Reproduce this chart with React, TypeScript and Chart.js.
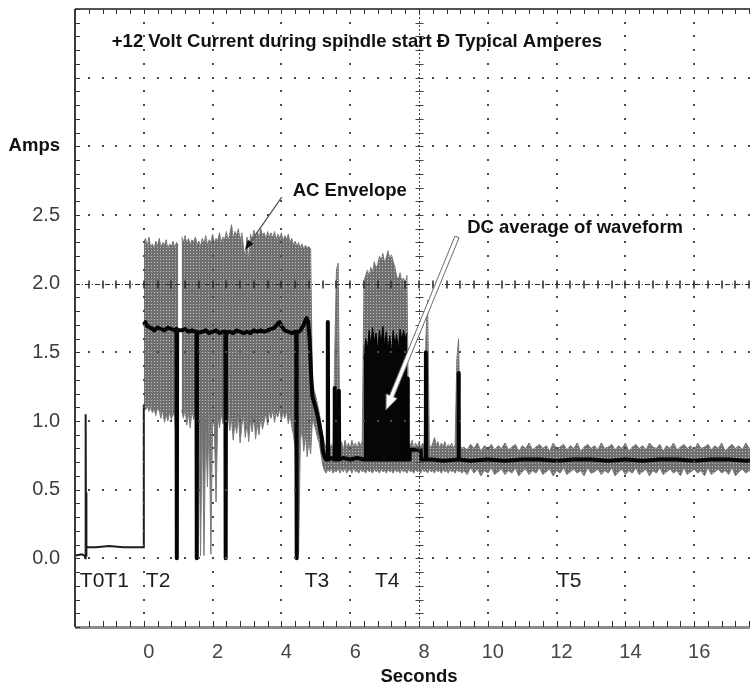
import React, { useEffect, useRef } from 'react';
import { Chart, registerables } from 'chart.js';

Chart.register(...registerables);

const FONT = '"Liberation Sans", Arial, Helvetica, sans-serif';

// ---------- axes ----------
const X_MIN = -2;
const X_MAX = 18;
const X_STEP = 2;
const X_MINOR = 0.4;
const Y_MIN = -0.5;
const Y_MAX = 4.0;
const Y_STEP = 0.5;
const Y_MINOR = 0.1;
const X_LABELED = [0, 2, 4, 6, 8, 10, 12, 14, 16];
const Y_LABELED = [0, 0.5, 1.0, 1.5, 2.0, 2.5];
const Y_TITLE_AT = 3.0;
const Y_TITLE = 'Amps';
const X_TITLE = 'Seconds';
const GRID_ROWS = [0, 0.5, 1.0, 1.5, 2.5, 3.0, 3.5];
const GRID_COLS = [0, 2, 4, 6, 10, 12, 14, 16];
const CENTER_ROW = 2.0;
const CENTER_COL = 8;

// ---------- annotations ----------
const NOTE_TEXT = ['+12 Volt Current during spindle start \u00D0 Typical Amperes', 'AC Envelope', 'DC average of waveform'];
const NOTE_T = [-0.93, 4.33, 9.4];
const NOTE_A = [3.72, 2.64, 2.37];
const PHASE_TEXT = ['T0T1', 'T2', 'T3', 'T4', 'T5'];
const PHASE_T = [-1.86, 0.06, 4.68, 6.72, 12.01];
const PHASE_A = -0.21;
const ARROW_AC = [4.01, 2.63, 2.94, 2.245];
const ARROW_DC = [9.105, 2.34, 7.04, 1.08];

// ---------- AC envelope (sampled, seconds / amps) ----------
const ENV_A_T0 = 0.0;
const ENV_A_DT = 0.05;
const ENV_A_HI = [
  2.30, 2.33, 2.27, 2.34, 2.26, 2.29, 2.25, 2.31, 2.27, 2.33,
  2.26, 2.30, 2.28, 2.32, 2.25, 2.29, 2.27, 2.31, 2.26, 2.30,
  2.28, null, 2.34, 2.30, 2.35, 2.29, 2.33, 2.28, 2.32, 2.30,
  2.34, 2.28, 2.31, 2.27, 2.33, 2.29, 2.35, 2.28, 2.32, 2.30,
  2.36, 2.29, 2.33, 2.31, 2.37, 2.30, 2.34, 2.32, 2.38, 2.31,
  2.36, 2.43, 2.33, 2.38, 2.35, 2.40, 2.31, 2.37, 2.26, 2.18,
  2.34, 2.15, 2.36, 2.32, 2.39, 2.34, 2.38, 2.33, 2.40, 2.35,
  2.37, 2.32, 2.38, 2.34, 2.37, 2.33, 2.38, 2.32, 2.36, 2.33,
  2.37, 2.31, 2.35, 2.32, 2.36, 2.30, 2.33, 2.28, 2.31, 2.27,
  2.30, 2.26, 2.29, 2.25, 2.28, 2.26, 2.27, 2.25, 1.30,
];
const ENV_A_LO = [
  1.10, 1.08, 1.11, 1.07, 1.10, 1.06, 1.09, 1.04, 1.10, 1.07,
  1.02, 1.08, 0.99, 1.05, 1.00, 1.07, 1.01, 1.06, 1.03, 0.81,
  1.05, null, 1.08, 1.02, 1.09, 0.97, 1.06, 0.95, 1.08, 1.01,
  1.07, 1.03, 1.06, 0.02, 1.04, 0.02, 1.00, 0.52, 1.05, 0.03,
  1.02, 0.96, 0.41, 1.04, 0.95, 1.06, 0.98, 1.04, 0.90, 1.05,
  0.93, 1.02, 0.86, 1.00, 0.91, 1.05, 0.84, 0.97, 1.03, 0.88,
  0.99, 0.85, 1.01, 0.92, 1.04, 0.87, 0.98, 0.90, 1.03, 0.94,
  1.00, 1.06, 0.97, 1.07, 1.02, 1.08, 0.99, 1.06, 1.03, 1.09,
  1.00, 1.07, 1.02, 1.08, 0.98, 1.05, 0.96, 0.90, 0.80, 0.02,
  0.03, 0.85, 0.95, 0.78, 0.90, 0.74, 0.86, 0.76, 1.00,
];
const ENV_B_T0 = 4.95;
const ENV_B_DT = 0.05;
const ENV_B_HI = [
  1.22, 1.18, 1.12, 1.06, 0.98, 0.90, 0.84, 0.80, 0.82, 0.79,
  0.83, 0.80, 1.48, 2.10, 2.15, 0.80, 0.85, 0.78, 0.86, 0.80,
  0.84, 0.79, 0.86, 0.81, 0.84, 0.80, 0.85, 0.82, 0.85, 2.02,
  2.06, 2.10, 2.05, 2.12, 2.08, 2.16, 2.11, 2.14, 2.20, 2.17,
  2.22, 2.15, 2.19, 2.24, 2.18, 2.21, 2.16, 2.12, 2.05, 2.03,
  2.08, 2.02, 2.04, 2.00, 2.06, 0.85, 0.82, 0.86, 0.80, 0.84,
  0.81, 0.85, 0.80, 0.84, 0.82, 1.60, 1.88, 0.83, 0.80, 0.84,
  0.88, 0.82, 0.85, 0.80, 0.84, 0.81, 0.85, 0.80, 0.83, 0.81,
  0.84, 0.80, 0.83, 1.45, 1.60, 0.82, 0.80,
];
const ENV_B_LO = [
  0.98, 0.93, 0.88, 0.84, 0.76, 0.68, 0.64, 0.62, 0.65, 0.63,
  0.66, 0.62, 0.64, 0.63, 0.66, 0.62, 0.65, 0.63, 0.66, 0.62,
  0.64, 0.65, 0.62, 0.66, 0.63, 0.64, 0.62, 0.65, 0.63, 0.64,
  0.62, 0.65, 0.63, 0.64, 0.62, 0.65, 0.63, 0.64, 0.62, 0.65,
  0.63, 0.64, 0.62, 0.65, 0.63, 0.64, 0.62, 0.65, 0.63, 0.64,
  0.62, 0.65, 0.63, 0.64, 0.62, 0.65, 0.63, 0.64, 0.62, 0.65,
  0.63, 0.64, 0.62, 0.65, 0.63, 0.64, 0.62, 0.65, 0.63, 0.64,
  0.62, 0.65, 0.63, 0.64, 0.62, 0.65, 0.63, 0.64, 0.62, 0.65,
  0.63, 0.64, 0.62, 0.65, 0.63, 0.64, 0.62,
];
const ENV_C_T0 = 9.3;
const ENV_C_DT = 0.1;
const ENV_C_HI = [
  0.81, 0.79, 0.83, 0.80, 0.84, 0.78, 0.82, 0.80, 0.83, 0.79,
  0.82, 0.80, 0.84, 0.79, 0.81, 0.83, 0.78, 0.82, 0.80, 0.84,
  0.79, 0.81, 0.83, 0.80, 0.82, 0.78, 0.84, 0.80, 0.81, 0.83,
  0.79, 0.82, 0.80, 0.84, 0.78, 0.81, 0.83, 0.80, 0.82, 0.79,
  0.84, 0.80, 0.81, 0.83, 0.79, 0.82, 0.80, 0.84, 0.78, 0.81,
  0.83, 0.80, 0.82, 0.79, 0.84, 0.81, 0.80, 0.83, 0.78, 0.82,
  0.80, 0.84, 0.79, 0.81, 0.83, 0.80, 0.82, 0.78, 0.84, 0.80,
  0.81, 0.83, 0.79, 0.82, 0.80, 0.84, 0.78, 0.81, 0.83, 0.80,
  0.82, 0.79, 0.84, 0.80, 0.81, 0.83, 0.80,
];
const ENV_C_LO = [
  0.64, 0.61, 0.66, 0.62, 0.65, 0.60, 0.64, 0.62, 0.66, 0.61,
  0.63, 0.65, 0.61, 0.64, 0.62, 0.66, 0.60, 0.63, 0.65, 0.61,
  0.64, 0.62, 0.66, 0.61, 0.63, 0.65, 0.60, 0.64, 0.62, 0.66,
  0.61, 0.63, 0.65, 0.62, 0.64, 0.60, 0.66, 0.62, 0.63, 0.65,
  0.61, 0.64, 0.62, 0.66, 0.60, 0.63, 0.65, 0.61, 0.64, 0.62,
  0.66, 0.61, 0.63, 0.65, 0.60, 0.64, 0.62, 0.66, 0.61, 0.63,
  0.65, 0.62, 0.64, 0.60, 0.66, 0.61, 0.63, 0.65, 0.62, 0.64,
  0.60, 0.66, 0.61, 0.63, 0.65, 0.62, 0.64, 0.61, 0.66, 0.60,
  0.63, 0.65, 0.62, 0.64, 0.61, 0.66, 0.62,
];

// ---------- idle trace (T0-T1) ----------
const IDLE_T = [-1.98, -1.8, -1.72, -1.7, -1.69, -1.68, -1.675, -1.67, -1.66, -1.64, -1.4, -1.0, -0.6, -0.2, -0.01, 0.0];
const IDLE_V = [0.02, 0.03, 0.02, 0.0, 1.05, 0.02, 0.48, 0.1, 0.09, 0.08, 0.08, 0.09, 0.08, 0.08, 0.08, 1.12];

// ---------- T4 burst (black) ----------
const BURST_T0 = 6.4;
const BURST_DT = 0.05;
const BURST_BASE = 0.72;
const BURST_TOP = [
  1.45, 1.60, 1.52, 1.66, 1.55, 1.68, 1.58, 1.64, 1.50, 1.66,
  1.56, 1.69, 1.54, 1.65, 1.52, 1.62, 1.49, 1.66, 1.55, 1.63,
  1.51, 1.67, 1.58, 1.66, 1.60, 1.64,
];

// ---------- DC average ----------
const DC_T = [
  0.00, 0.05, 0.10, 0.20, 0.30, 0.40, 0.50, 0.60, 0.70, 0.80,
  0.90, 0.95, 0.96, 0.97, 1.10, 1.20, 1.30, 1.40, 1.50, 1.53,
  1.54, 1.55, 1.70, 1.80, 1.90, 2.00, 2.10, 2.20, 2.30, 2.37,
  2.38, 2.39, 2.50, 2.60, 2.70, 2.80, 2.90, 3.00, 3.10, 3.20,
  3.30, 3.40, 3.50, 3.60, 3.70, 3.80, 3.90, 3.95, 4.00, 4.10,
  4.20, 4.30, 4.40, 4.43, 4.44, 4.45, 4.55, 4.65, 4.73, 4.78,
  4.82, 4.86, 4.90, 4.97, 5.06, 5.12, 5.17, 5.20, 5.25, 5.30,
  5.34, 5.35, 5.36, 5.45, 5.54, 5.55, 5.56, 5.66, 5.67, 5.68,
  5.80, 6.00, 6.20, 6.40, 6.80, 7.20, 7.66, 7.67, 7.68, 7.72,
  7.73, 8.05, 8.06, 8.19, 8.20, 8.21, 8.40, 8.70, 9.14, 9.15,
  9.16, 9.50, 10.0, 10.5, 11.0, 11.5, 12.0, 12.5, 13.0, 13.5,
  14.0, 14.5, 15.0, 15.5, 16.0, 16.5, 17.0, 17.5, 18.0,
];
const DC_V = [
  1.70, 1.72, 1.69, 1.68, 1.66, 1.68, 1.67, 1.66, 1.68, 1.67,
  1.66, 1.67, 0.00, 1.66, 1.66, 1.67, 1.65, 1.66, 1.65, 1.65,
  0.00, 1.64, 1.65, 1.66, 1.64, 1.65, 1.66, 1.64, 1.65, 1.65,
  0.00, 1.64, 1.65, 1.64, 1.66, 1.65, 1.64, 1.65, 1.64, 1.66,
  1.65, 1.66, 1.65, 1.66, 1.67, 1.68, 1.71, 1.72, 1.69, 1.66,
  1.65, 1.64, 1.65, 1.65, 0.00, 1.64, 1.66, 1.70, 1.75, 1.72,
  1.60, 1.35, 1.18, 1.12, 1.03, 0.95, 0.88, 0.79, 0.74, 0.72,
  0.72, 1.72, 0.72, 0.73, 0.72, 1.24, 0.72, 0.72, 1.22, 0.72,
  0.73, 0.72, 0.73, 0.72, 0.72, 0.72, 0.72, 1.31, 0.72, 0.72,
  0.79, 0.79, 0.72, 0.72, 1.50, 0.72, 0.72, 0.71, 0.72, 1.35,
  0.72, 0.71, 0.72, 0.71, 0.72, 0.72, 0.71, 0.72, 0.72, 0.71,
  0.72, 0.71, 0.72, 0.72, 0.71, 0.72, 0.72, 0.71, 0.72,
];

const sampled = (t0: number, dt: number, vals: (number | null)[]) =>
  vals.map((v, i) => ({ x: Math.round((t0 + i * dt) * 1000) / 1000, y: v }));
const paired = (ts: number[], vs: number[]) => ts.map((t, i) => ({ x: t, y: vs[i] }));
const near = (a: number, b: number) => Math.abs(a - b) < 1e-6;

const scopePlugin = {
  id: 'scopeDecor',
  afterDatasetsDraw(chart: any) {
    const { ctx, chartArea: ca, scales } = chart;
    const X = (t: number) => scales.x.getPixelForValue(t);
    const Y = (a: number) => scales.y.getPixelForValue(a);
    const nT = Math.round((X_MAX - X_MIN) / X_MINOR);
    const nA = Math.round((Y_MAX - Y_MIN) / Y_MINOR);
    ctx.save();
    // dotted graticule
    ctx.fillStyle = '#4a4a4a';
    for (const a of GRID_ROWS) {
      const py = Math.round(Y(a));
      for (let k = 0; k <= nT; k++) {
        const px = Math.round(X(X_MIN + k * X_MINOR));
        ctx.fillRect(px - 1, py - 1, 2, 2);
      }
    }
    for (const t of GRID_COLS) {
      const px = Math.round(X(t));
      for (let k = 0; k <= nA; k++) {
        const py = Math.round(Y(Y_MIN + k * Y_MINOR));
        ctx.fillRect(px - 1, py - 1, 2, 2);
      }
    }
    // centre row
    const cy = Math.round(Y(CENTER_ROW)) + 0.5;
    ctx.strokeStyle = '#2a2a2a';
    ctx.lineWidth = 1;
    ctx.setLineDash([5, 2, 1, 2]);
    ctx.beginPath();
    ctx.moveTo(ca.left, cy);
    ctx.lineTo(ca.right, cy);
    ctx.stroke();
    ctx.setLineDash([]);
    ctx.lineWidth = 1.5;
    ctx.beginPath();
    for (let k = 0; k <= nT; k++) {
      const px = Math.round(X(X_MIN + k * X_MINOR));
      ctx.moveTo(px, cy - 4);
      ctx.lineTo(px, cy + 4);
    }
    ctx.stroke();
    // centre column
    const cx = Math.round(X(CENTER_COL)) + 0.5;
    ctx.strokeStyle = '#444';
    ctx.lineWidth = 1;
    ctx.setLineDash([2, 2]);
    ctx.beginPath();
    ctx.moveTo(cx, ca.top);
    ctx.lineTo(cx, ca.bottom);
    ctx.stroke();
    ctx.setLineDash([]);
    ctx.beginPath();
    for (let k = 0; k <= nA; k++) {
      const py = Math.round(Y(Y_MIN + k * Y_MINOR)) + 0.5;
      ctx.moveTo(cx - 4, py);
      ctx.lineTo(cx + 4, py);
    }
    ctx.stroke();
    ctx.restore();
  },
  afterDraw(chart: any) {
    const { ctx, chartArea: ca, scales } = chart;
    const X = (t: number) => scales.x.getPixelForValue(t);
    const Y = (a: number) => scales.y.getPixelForValue(a);
    const nT = Math.round((X_MAX - X_MIN) / X_MINOR);
    const nA = Math.round((Y_MAX - Y_MIN) / Y_MINOR);
    ctx.save();
    // frame
    ctx.strokeStyle = '#8c8c8c';
    ctx.lineWidth = 3;
    ctx.beginPath();
    ctx.moveTo(ca.left, ca.bottom + 0.5);
    ctx.lineTo(ca.right, ca.bottom + 0.5);
    ctx.stroke();
    ctx.strokeStyle = '#555';
    ctx.lineWidth = 2;
    ctx.beginPath();
    ctx.moveTo(ca.left, ca.top);
    ctx.lineTo(ca.right, ca.top);
    ctx.stroke();
    ctx.strokeStyle = '#3a3a3a';
    ctx.beginPath();
    ctx.moveTo(ca.left, ca.top);
    ctx.lineTo(ca.left, ca.bottom);
    ctx.stroke();
    // minor ticks
    ctx.lineWidth = 1;
    ctx.strokeStyle = '#333';
    ctx.beginPath();
    for (let k = 0; k <= nA; k++) {
      const py = Math.round(Y(Y_MIN + k * Y_MINOR)) + 0.5;
      ctx.moveTo(ca.left, py);
      ctx.lineTo(ca.left + 5, py);
    }
    for (let k = 0; k <= nT; k++) {
      const px = Math.round(X(X_MIN + k * X_MINOR)) + 0.5;
      ctx.moveTo(px, ca.top);
      ctx.lineTo(px, ca.top + 5);
      ctx.moveTo(px, ca.bottom);
      ctx.lineTo(px, ca.bottom - 6);
    }
    ctx.stroke();

    // solid arrow (AC envelope)
    {
      const [t1, a1, t2, a2] = ARROW_AC;
      const x1 = X(t1), y1 = Y(a1), x2 = X(t2), y2 = Y(a2);
      const len = Math.hypot(x2 - x1, y2 - y1);
      const ux = (x2 - x1) / len, uy = (y2 - y1) / len;
      const nx = -uy, ny = ux;
      const L = 10, W = 3.5;
      ctx.strokeStyle = '#555';
      ctx.lineWidth = 1.3;
      ctx.beginPath();
      ctx.moveTo(x1, y1);
      ctx.lineTo(x2 - ux * L, y2 - uy * L);
      ctx.stroke();
      ctx.fillStyle = '#111';
      ctx.beginPath();
      ctx.moveTo(x2, y2);
      ctx.lineTo(x2 - ux * L + nx * W, y2 - uy * L + ny * W);
      ctx.lineTo(x2 - ux * L - nx * W, y2 - uy * L - ny * W);
      ctx.closePath();
      ctx.fill();
    }
    // hollow arrow (DC average)
    {
      const [t1, a1, t2, a2] = ARROW_DC;
      const x1 = X(t1), y1 = Y(a1), x2 = X(t2), y2 = Y(a2);
      const len = Math.hypot(x2 - x1, y2 - y1);
      const ux = (x2 - x1) / len, uy = (y2 - y1) / len;
      const nx = -uy, ny = ux;
      const L = 15, W = 6, S = 2.2;
      const bx = x2 - ux * L, by = y2 - uy * L;
      ctx.fillStyle = '#fff';
      ctx.strokeStyle = '#6a6a6a';
      ctx.lineWidth = 1;
      ctx.beginPath();
      ctx.moveTo(x1 + nx * S, y1 + ny * S);
      ctx.lineTo(bx + nx * S, by + ny * S);
      ctx.lineTo(bx + nx * W, by + ny * W);
      ctx.lineTo(x2, y2);
      ctx.lineTo(bx - nx * W, by - ny * W);
      ctx.lineTo(bx - nx * S, by - ny * S);
      ctx.lineTo(x1 - nx * S, y1 - ny * S);
      ctx.closePath();
      ctx.fill();
      ctx.stroke();
    }

    // notes
    ctx.textAlign = 'left';
    ctx.textBaseline = 'alphabetic';
    ctx.fillStyle = '#111';
    ctx.font = `bold 18.5px ${FONT}`;
    NOTE_TEXT.forEach((s, i) => ctx.fillText(s, X(NOTE_T[i]), Y(NOTE_A[i])));
    ctx.font = `21px ${FONT}`;
    ctx.fillStyle = '#1c1c1c';
    PHASE_TEXT.forEach((s, i) => ctx.fillText(s, X(PHASE_T[i]), Y(PHASE_A)));
    ctx.restore();
  },
};

export default function App() {
  const ref = useRef<HTMLCanvasElement>(null);

  useEffect(() => {
    const canvas = ref.current as HTMLCanvasElement;
    const c2d = canvas.getContext('2d') as CanvasRenderingContext2D;
    const pc = document.createElement('canvas');
    pc.width = 3;
    pc.height = 3;
    const pctx = pc.getContext('2d') as CanvasRenderingContext2D;
    pctx.fillStyle = '#6f6f6f';
    pctx.fillRect(0, 0, 3, 3);
    pctx.fillStyle = '#c2c2c2';
    pctx.fillRect(1, 1, 1, 1);
    const halftone = c2d.createPattern(pc, 'repeat') as CanvasPattern;

    const envHi = [
      ...sampled(ENV_A_T0, ENV_A_DT, ENV_A_HI),
      ...sampled(ENV_B_T0, ENV_B_DT, ENV_B_HI),
      ...sampled(ENV_C_T0, ENV_C_DT, ENV_C_HI),
    ];
    const envLo = [
      ...sampled(ENV_A_T0, ENV_A_DT, ENV_A_LO),
      ...sampled(ENV_B_T0, ENV_B_DT, ENV_B_LO),
      ...sampled(ENV_C_T0, ENV_C_DT, ENV_C_LO),
    ];

    const chart = new Chart(canvas, {
      type: 'line',
      data: {
        datasets: [
          {
            label: 'AC envelope (max)',
            data: envHi,
            borderColor: '#7a7a7a',
            borderWidth: 1,
            pointRadius: 0,
            fill: false,
            spanGaps: false,
            order: 10,
          },
          {
            label: 'AC envelope (min)',
            data: envLo,
            borderColor: '#7a7a7a',
            borderWidth: 1,
            pointRadius: 0,
            fill: '-1',
            backgroundColor: halftone,
            spanGaps: false,
            order: 9,
          },
          {
            label: 'Idle',
            data: paired(IDLE_T, IDLE_V),
            borderColor: '#1c1c1c',
            borderWidth: 2,
            pointRadius: 0,
            fill: false,
            order: 5,
          },
          {
            label: 'T4 burst',
            data: sampled(BURST_T0, BURST_DT, BURST_TOP),
            borderColor: '#000',
            borderWidth: 1,
            backgroundColor: '#060606',
            pointRadius: 0,
            fill: { value: BURST_BASE },
            order: 4,
          },
          {
            label: 'DC average of waveform',
            data: paired(DC_T, DC_V),
            borderColor: '#050505',
            borderWidth: 4,
            borderJoinStyle: 'round',
            pointRadius: 0,
            fill: false,
            order: 3,
          },
        ] as any,
      },
      options: {
        responsive: false,
        animation: false,
        events: [],
        layout: { padding: { top: 9, right: 37, bottom: 0, left: 0 } },
        elements: { line: { tension: 0 }, point: { radius: 0 } },
        plugins: {
          legend: { display: false },
          tooltip: { enabled: false },
          title: { display: false },
        },
        scales: {
          x: {
            type: 'linear',
            min: X_MIN,
            max: X_MAX,
            grid: { display: false, drawTicks: false },
            border: { display: false },
            ticks: {
              stepSize: X_STEP,
              autoSkip: false,
              maxRotation: 0,
              padding: 13,
              labelOffset: 5,
              color: '#444',
              font: { family: FONT, size: 20 },
              callback: (v: any) => (X_LABELED.some((l) => near(l, Number(v))) ? String(v) : ''),
            },
            title: {
              display: true,
              text: X_TITLE,
              color: '#111',
              padding: 0,
              font: { family: FONT, size: 18.5, weight: 'bold', lineHeight: 1 },
            },
            afterFit: (s: any) => {
              s.height = 59;
              s.paddingLeft = 0;
              s.paddingRight = 0;
            },
          },
          y: {
            type: 'linear',
            min: Y_MIN,
            max: Y_MAX,
            grid: { display: false, drawTicks: false },
            border: { display: false },
            ticks: {
              stepSize: Y_STEP,
              autoSkip: false,
              padding: 15,
              color: (c: any) => (c.tick && near(c.tick.value, Y_TITLE_AT) ? '#111' : '#3c3c3c'),
              font: (c: any) =>
                c.tick && near(c.tick.value, Y_TITLE_AT)
                  ? { family: FONT, size: 18.5, weight: 'bold' }
                  : { family: FONT, size: 20 },
              callback: (v: any) => {
                const n = Number(v);
                if (near(n, Y_TITLE_AT)) return Y_TITLE;
                return Y_LABELED.some((l) => near(l, n)) ? n.toFixed(1) : '';
              },
            },
            afterFit: (s: any) => {
              s.width = 75;
              s.paddingTop = 0;
              s.paddingBottom = 0;
            },
          },
        },
      } as any,
      plugins: [scopePlugin],
    });

    return () => chart.destroy();
  }, []);

  return (
    <div
      style={{
        position: 'absolute',
        left: 0,
        top: 0,
        width: 750,
        height: 686,
        overflow: 'hidden',
        background: '#fff',
      }}
    >
      <canvas ref={ref} width={800} height={686} style={{ display: 'block', width: 800, height: 686 }} />
    </div>
  );
}
